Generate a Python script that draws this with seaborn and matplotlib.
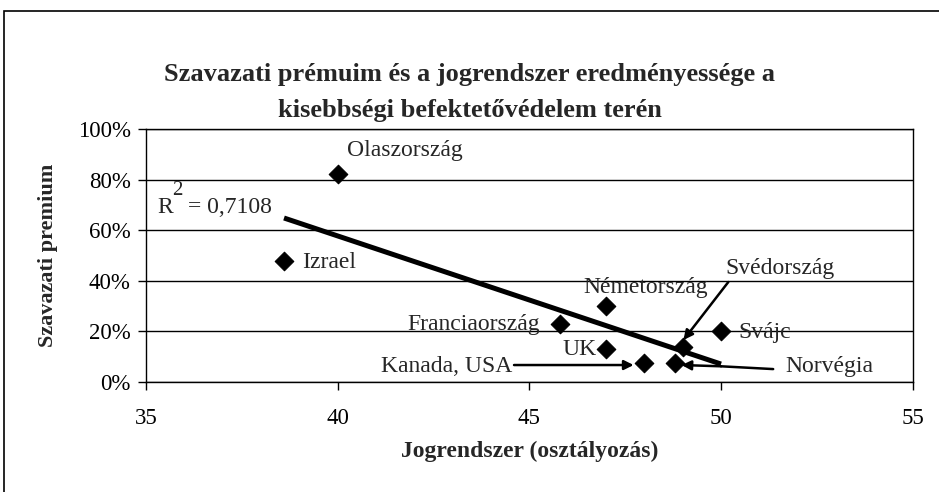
import numpy as np
import pandas as pd
import matplotlib
matplotlib.use("Agg")
import matplotlib.pyplot as plt
from matplotlib.patches import Rectangle
from matplotlib.ticker import PercentFormatter
from matplotlib.transforms import offset_copy
import seaborn as sns

# data
countries = ["Olaszország", "Izrael", "Németország", "Franciaország", "UK",
             "Kanada, USA", "Svédország", "Norvégia", "Svájc"]
jogrendszer = [40.0, 38.6, 47.0, 45.8, 47.0, 48.0, 49.0, 48.8, 50.0]
premium = [0.82, 0.48, 0.30, 0.23, 0.13, 0.075, 0.14, 0.075, 0.20]

x_ticks = [35, 40, 45, 50, 55]
y_ticks = [0.0, 0.2, 0.4, 0.6, 0.8, 1.0]

df = pd.DataFrame({"country": countries, "x": jogrendszer, "y": premium})

sns.set_theme(style="white")
plt.rcParams["font.family"] = ["Liberation Serif", "DejaVu Serif"]

fig = plt.figure(figsize=(9.39, 4.92), dpi=100)
ax = fig.add_axes([0.1555, 0.2236, 0.972 - 0.1555, 0.738 - 0.2236])

# outer frame of the chart object (right and bottom edges fall outside)
fig.patches.append(Rectangle((4 / 939, -0.1), 1.1, 1.1 - 11 / 492,
                             transform=fig.transFigure, fill=False,
                             edgecolor="black", linewidth=1.2, zorder=10))

# linear trendline
sns.regplot(data=df, x="x", y="y", ax=ax, scatter=False, ci=None,
            truncate=True, line_kws={"color": "black", "linewidth": 3.6,
                                     "solid_capstyle": "butt"})
sns.scatterplot(data=df, x="x", y="y", ax=ax, marker="D", s=90,
                color="black", edgecolor="black", zorder=5, legend=False)

ax.set_xlim(35, 55)
ax.set_ylim(0, 1)
ax.set_xticks(x_ticks)
ax.set_yticks(y_ticks)
ax.yaxis.set_major_formatter(PercentFormatter(1.0, decimals=0))
ax.grid(axis="y", color="black", linewidth=1.0)
ax.set_axisbelow(True)
for s in ax.spines.values():
    s.set_color("black")
    s.set_linewidth(1.0)
ax.tick_params(axis="both", which="major", direction="out", length=6,
               width=1.0, color="black", labelsize=16.5, labelcolor="black",
               bottom=True, left=True, pad=5)
ax.tick_params(axis="x", pad=13)

ax.set_xlabel("Jogrendszer (osztályozás)", fontsize=17, fontweight="bold",
              labelpad=8)
ax.set_ylabel("Szavazati premium", fontsize=16, fontweight="bold",
              labelpad=14)

fig.text(0.5, 0.848, "Szavazati prémuim és a jogrendszer eredményessége a",
         ha="center", va="center", fontsize=19, fontweight="bold")
fig.text(0.5, 0.776, "kisebbségi befektetővédelem terén",
         ha="center", va="center", fontsize=19, fontweight="bold")

# point labels
fs = 17
ax.text(40.23, 0.915, "Olaszország", ha="left", va="center", fontsize=fs)
ax.text(39.08, 0.474, "Izrael", ha="left", va="center", fontsize=fs)
ax.text(48.03, 0.375, "Németország", ha="center", va="center", fontsize=fs)
ax.text(45.27, 0.229, "Franciaország", ha="right", va="center", fontsize=fs)
ax.text(46.31, 0.13, "UK", ha="center", va="center", fontsize=fs)
ax.text(50.45, 0.194, "Svájc", ha="left", va="center", fontsize=fs)
ax.text(51.67, 0.063, "Norvégia", ha="left", va="center", fontsize=fs)
ax.text(44.55, 0.063, "Kanada, USA", ha="right", va="center", fontsize=fs)
ax.text(50.11, 0.45, "Svédország", ha="left", va="center", fontsize=fs)

# R squared label, Excel style with a large raised "2"
ax.text(35.29, 0.69, "R", ha="left", va="center", fontsize=fs)
ax.text(35.29, 0.69, "2", ha="left", va="center", fontsize=15,
        transform=offset_copy(ax.transData, fig=fig, x=11, y=12,
                              units="points"))
ax.text(35.29, 0.69, "= 0,7108", ha="left", va="center", fontsize=fs,
        transform=offset_copy(ax.transData, fig=fig, x=22, y=0,
                              units="points"))

arrow = dict(arrowstyle="-|>", color="black", lw=1.8, mutation_scale=14,
             shrinkA=0, shrinkB=0)
ax.annotate("", xy=(47.72, 0.067), xytext=(44.6, 0.067), arrowprops=arrow)
ax.annotate("", xy=(48.97, 0.067), xytext=(50.0, 0.062),
            arrowprops=arrow)
ax.plot([50.0, 51.36], [0.062, 0.051], color="black", lw=1.8)
ax.annotate("", xy=(49.02, 0.166), xytext=(50.19, 0.395), arrowprops=arrow)

fig.savefig("out.png", dpi=100)
